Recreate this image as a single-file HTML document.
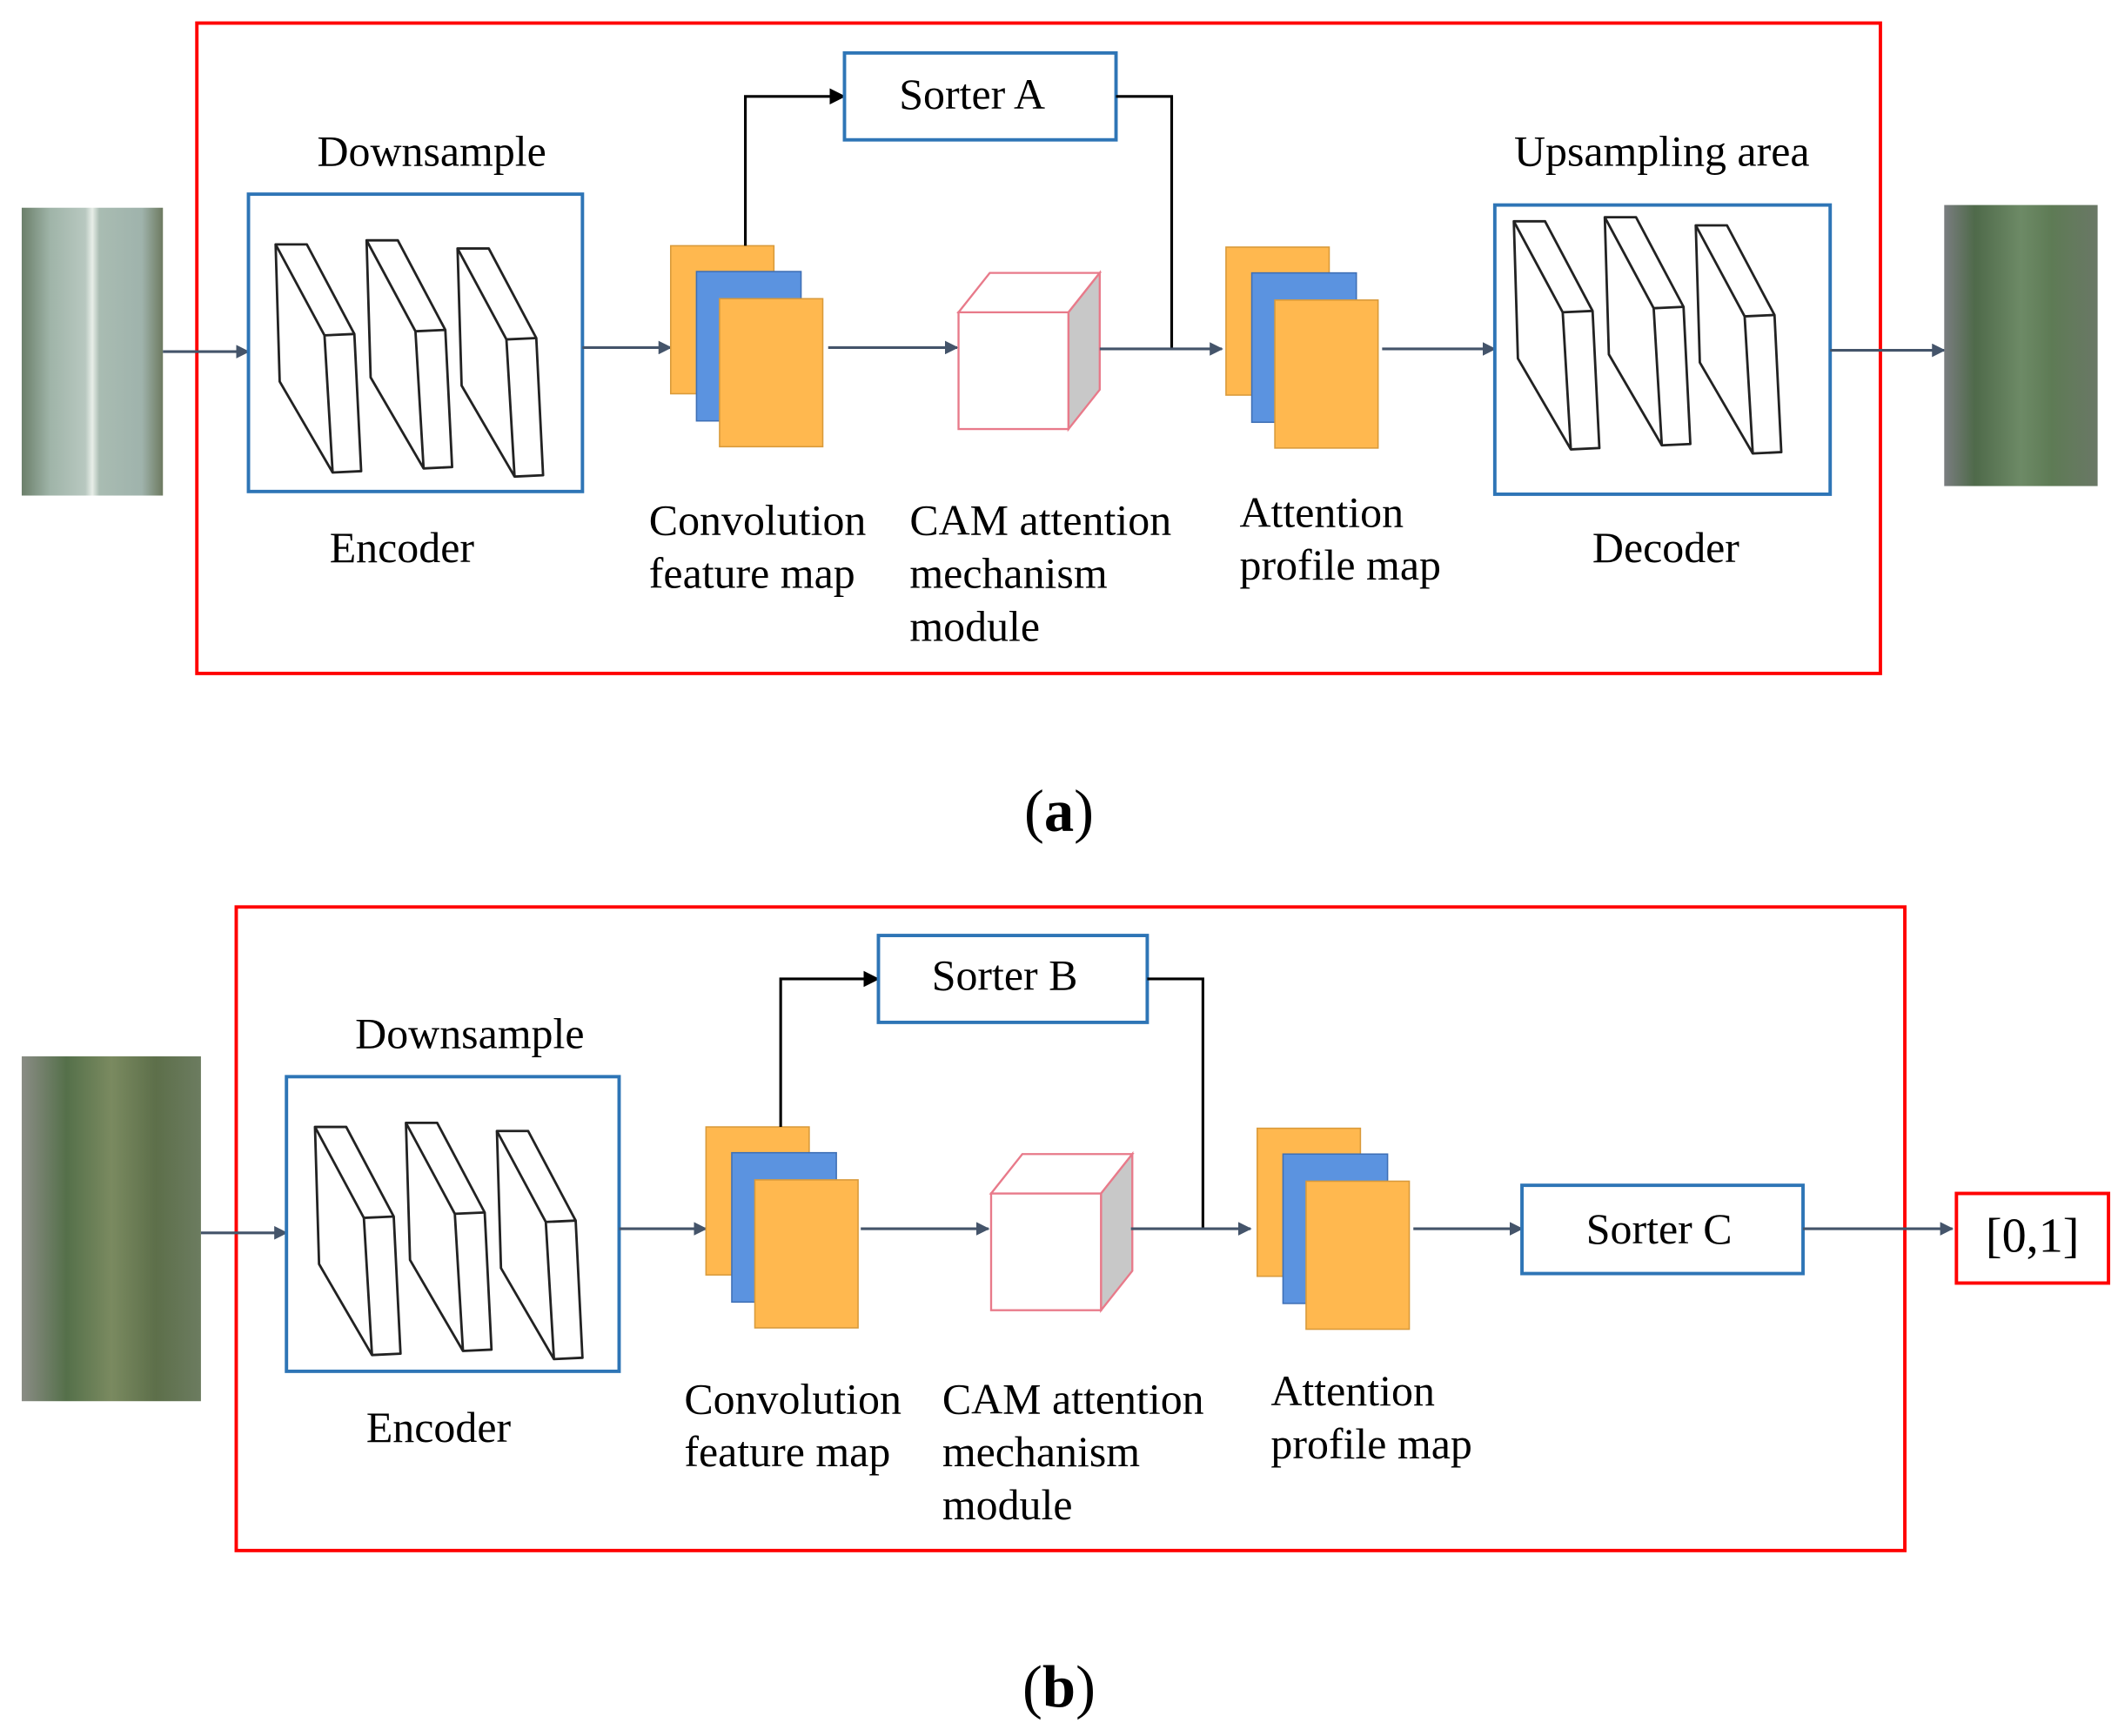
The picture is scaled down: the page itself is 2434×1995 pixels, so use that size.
<!DOCTYPE html>
<html><head><meta charset="utf-8"><style>
html,body{margin:0;padding:0;background:#fff}
svg{display:block}
text{font-family:"Liberation Serif",serif;font-size:32px;fill:#000}
</style></head><body>
<svg width="2434" height="1995" viewBox="0 0 1560 1278.6" preserveAspectRatio="none" xmlns="http://www.w3.org/2000/svg">
<defs>
<marker id="ar" markerWidth="10" markerHeight="10" refX="9" refY="5" orient="auto" markerUnits="userSpaceOnUse"><path d="M0,0 L10,5 L0,10 z" fill="#44546A"/></marker>
<marker id="ak" markerWidth="12" markerHeight="12" refX="11" refY="6" orient="auto" markerUnits="userSpaceOnUse"><path d="M0,0 L12,6 L0,12 z" fill="#000"/></marker>
<linearGradient id="leaf1" x1="0" x2="1" y1="0" y2="0">
<stop offset="0" stop-color="#6b7f6a"/><stop offset="0.2" stop-color="#9fb4a8"/><stop offset="0.45" stop-color="#b8c8c0"/><stop offset="0.5" stop-color="#e8eee8"/><stop offset="0.55" stop-color="#a9bcb2"/><stop offset="0.85" stop-color="#9fb3ac"/><stop offset="1" stop-color="#6d7a60"/></linearGradient>
<linearGradient id="leaf2" x1="0" x2="1" y1="0" y2="0">
<stop offset="0" stop-color="#7a7d80"/><stop offset="0.2" stop-color="#4f6a4a"/><stop offset="0.5" stop-color="#6d8a66"/><stop offset="0.7" stop-color="#5e7b55"/><stop offset="1" stop-color="#6a7866"/></linearGradient>
<linearGradient id="leaf3" x1="0" x2="1" y1="0" y2="0">
<stop offset="0" stop-color="#8a8c85"/><stop offset="0.25" stop-color="#55704a"/><stop offset="0.5" stop-color="#7a8a60"/><stop offset="0.75" stop-color="#5d6f4a"/><stop offset="1" stop-color="#6c7c60"/></linearGradient>
<g id="slab" fill="none" stroke="#222" stroke-width="1.8" stroke-linejoin="round">
<path d="M203,180 L226,180 L261,246 L266,347 L245,348 L206,281 Z"/>
<path d="M203,180 L239,247 L261,246 M239,247 L245,348"/>
</g>
<g id="slabs"><use href="#slab"/><use href="#slab" transform="translate(67,-3)"/><use href="#slab" transform="translate(134,3)"/></g>
<g id="maps">
<rect x="0" y="0" width="76" height="109" fill="#FFB84F" stroke="#D99A3A" stroke-width="1"/>
<rect x="19" y="19" width="77" height="110" fill="#5B93E0" stroke="#3e6fb5" stroke-width="1"/>
<rect x="36" y="39" width="76" height="109" fill="#FFB84F" stroke="#D99A3A" stroke-width="1"/>
</g>
<g id="cube">
<rect x="0" y="29" width="81" height="86" fill="#fff" stroke="#E87A8A" stroke-width="1.5"/>
<path d="M0,29 L23,0 L104,0 L81,29 Z" fill="#fff" stroke="#E87A8A" stroke-width="1.5"/>
<path d="M81,29 L104,0 L104,86 L81,115 Z" fill="#C8C8C8" stroke="#E87A8A" stroke-width="1.5"/>
</g>
</defs>

<!-- (a) -->
<rect x="145" y="17" width="1240" height="479" fill="none" stroke="#FF0000" stroke-width="2.5"/>
<rect x="16" y="153" width="104" height="212" fill="url(#leaf1)"/>
<line x1="120" y1="259" x2="183" y2="259" stroke="#44546A" stroke-width="2" marker-end="url(#ar)"/>
<rect x="183" y="143" width="246" height="219" fill="#fff" stroke="#2E75B6" stroke-width="2.5"/>
<use href="#slabs"/>
<text x="318" y="122" text-anchor="middle">Downsample</text>
<text x="296" y="414" text-anchor="middle">Encoder</text>
<line x1="429" y1="256" x2="494" y2="256" stroke="#44546A" stroke-width="2" marker-end="url(#ar)"/>
<use href="#maps" transform="translate(494,181)"/>
<polyline points="549,181 549,71 622,71" fill="none" stroke="#000" stroke-width="2" marker-end="url(#ak)"/>
<rect x="622" y="39" width="200" height="64" fill="#fff" stroke="#2E75B6" stroke-width="2.5"/>
<text x="716" y="80" text-anchor="middle">Sorter A</text>
<polyline points="822,71 863,71 863,257" fill="none" stroke="#000" stroke-width="2"/>
<line x1="610" y1="256" x2="705" y2="256" stroke="#44546A" stroke-width="2" marker-end="url(#ar)"/>
<use href="#cube" transform="translate(706,201)"/>
<line x1="810" y1="257" x2="900" y2="257" stroke="#44546A" stroke-width="2" marker-end="url(#ar)"/>
<use href="#maps" transform="translate(903,182)"/>
<line x1="1018" y1="257" x2="1101" y2="257" stroke="#44546A" stroke-width="2" marker-end="url(#ar)"/>
<rect x="1101" y="151" width="247" height="213" fill="#fff" stroke="#2E75B6" stroke-width="2.5"/>
<use href="#slabs" transform="translate(912,-17)"/>
<text x="1224" y="122" text-anchor="middle">Upsampling area</text>
<text x="1227" y="414" text-anchor="middle">Decoder</text>
<line x1="1348" y1="258" x2="1432" y2="258" stroke="#44546A" stroke-width="2" marker-end="url(#ar)"/>
<rect x="1432" y="151" width="113" height="207" fill="url(#leaf2)"/>
<text x="478" y="394">Convolution</text>
<text x="478" y="433">feature map</text>
<text x="670" y="394">CAM attention</text>
<text x="670" y="433">mechanism</text>
<text x="670" y="472">module</text>
<text x="913" y="388">Attention</text>
<text x="913" y="427">profile map</text>
<text x="780" y="612" text-anchor="middle" style="font-size:44px">(<tspan font-weight="bold">a</tspan>)</text>

<!-- (b) -->
<rect x="174" y="668" width="1229" height="474" fill="none" stroke="#FF0000" stroke-width="2.5"/>
<rect x="16" y="778" width="132" height="254" fill="url(#leaf3)"/>
<line x1="148" y1="908" x2="211" y2="908" stroke="#44546A" stroke-width="2" marker-end="url(#ar)"/>
<rect x="211" y="793" width="245" height="217" fill="#fff" stroke="#2E75B6" stroke-width="2.5"/>
<use href="#slabs" transform="translate(29,650)"/>
<text x="346" y="772" text-anchor="middle">Downsample</text>
<text x="323" y="1062" text-anchor="middle">Encoder</text>
<line x1="456" y1="905" x2="520" y2="905" stroke="#44546A" stroke-width="2" marker-end="url(#ar)"/>
<use href="#maps" transform="translate(520,830)"/>
<polyline points="575,830 575,721 647,721" fill="none" stroke="#000" stroke-width="2" marker-end="url(#ak)"/>
<rect x="647" y="689" width="198" height="64" fill="#fff" stroke="#2E75B6" stroke-width="2.5"/>
<text x="740" y="729" text-anchor="middle">Sorter B</text>
<polyline points="845,721 886,721 886,905" fill="none" stroke="#000" stroke-width="2"/>
<line x1="634" y1="905" x2="728" y2="905" stroke="#44546A" stroke-width="2" marker-end="url(#ar)"/>
<use href="#cube" transform="translate(730,850)"/>
<line x1="833" y1="905" x2="921" y2="905" stroke="#44546A" stroke-width="2" marker-end="url(#ar)"/>
<use href="#maps" transform="translate(926,831)"/>
<line x1="1041" y1="905" x2="1121" y2="905" stroke="#44546A" stroke-width="2" marker-end="url(#ar)"/>
<rect x="1121" y="873" width="207" height="65" fill="#fff" stroke="#2E75B6" stroke-width="2.5"/>
<text x="1222" y="916" text-anchor="middle">Sorter C</text>
<line x1="1328" y1="905" x2="1438" y2="905" stroke="#44546A" stroke-width="2" marker-end="url(#ar)"/>
<rect x="1441" y="879" width="112" height="66" fill="#fff" stroke="#FF0000" stroke-width="2.5"/>
<text x="1497" y="922" text-anchor="middle" style="font-size:36px">[0,1]</text>
<text x="504" y="1041">Convolution</text>
<text x="504" y="1080">feature map</text>
<text x="694" y="1041">CAM attention</text>
<text x="694" y="1080">mechanism</text>
<text x="694" y="1119">module</text>
<text x="936" y="1035">Attention</text>
<text x="936" y="1074">profile map</text>
<text x="780" y="1257" text-anchor="middle" style="font-size:44px">(<tspan font-weight="bold">b</tspan>)</text>
</svg>
</body></html>
